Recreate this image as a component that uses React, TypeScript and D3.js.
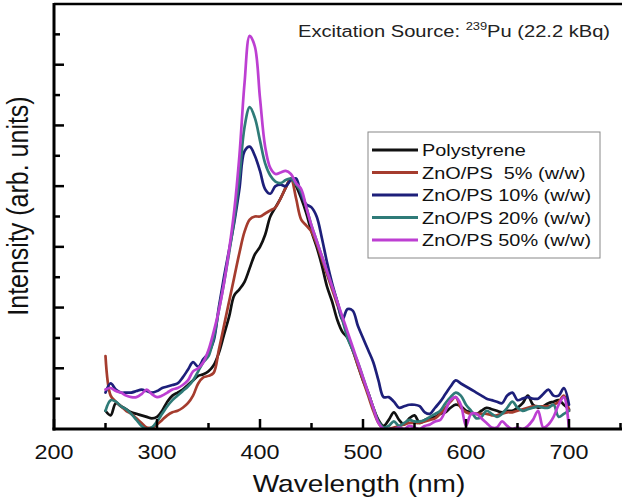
import React from "react";
import * as d3 from "d3";

const wavelengths: number[] = d3.range(250, 705, 5);

const polystyrene = [
  0.6, 0.45, 0.85, 0.75, 0.65, 0.55, 0.5, 0.45, 0.4, 0.35,
  0.4, 0.6, 0.9, 1.1, 1.2, 1.3, 1.45, 1.6, 1.75, 1.8,
  1.9, 2.1, 2.5, 3.1, 3.7, 4.4, 4.6, 4.85, 5.3, 5.75,
  6.0, 6.4, 7.0, 7.3, 7.6, 7.95, 8.25, 8.0, 7.6, 7.1,
  6.5, 6.0, 5.4, 4.7, 4.2, 3.6, 3.2, 3.0, 2.6, 2.1,
  1.6, 1.2, 0.7, 0.3, 0.1, 0.3, 0.55, 0.3, 0.15, 0.35,
  0.45, 0.2, 0.3, 0.35, 0.4, 0.5, 0.55, 0.7, 0.8, 0.75,
  0.6, 0.55, 0.5, 0.6, 0.7, 0.65, 0.6, 0.55, 0.6, 0.6,
  0.7, 0.85, 1.1, 0.8, 0.7, 0.75, 0.85, 0.9, 0.95, 0.8,
  0.65,
];

const zno5 = [
  2.4, 1.1, 0.9, 0.75, 0.6, 0.5, 0.35, 0.2, 0.05, 0.05,
  0.15, 0.3, 0.45, 0.55, 0.6, 0.7, 0.85, 1.1, 1.5, 1.7,
  1.75, 1.85, 2.6, 3.4, 4.2, 5.0, 5.8, 6.5, 6.9, 7.0,
  7.0, 7.1, 7.2, 7.3, 7.6, 7.95, 8.25, 7.6, 6.9, 6.7,
  6.5, 6.1, 5.6, 5.1, 4.6, 4.1, 3.6, 3.1, 2.6, 2.1,
  1.6, 1.1, 0.6, 0.2, 0.0, 0.0, 0.05, 0.1, 0.15, 0.2,
  0.2, 0.2, 0.25, 0.3, 0.35, 0.5, 0.7, 0.9, 1.05, 0.7,
  0.55, 0.5, 0.5, 0.5, 0.5, 0.45, 0.45, 0.5, 0.55, 0.55,
  0.6, 0.65, 0.7, 0.75, 0.75, 0.75, 0.75, 0.8, 0.9, 1.1,
  0.6,
];

const zno10 = [
  1.2, 1.5, 1.3, 1.2, 1.2, 1.2, 1.25, 1.3, 1.25, 1.2,
  1.25, 1.35, 1.4, 1.45, 1.5, 1.7, 1.95, 2.2, 2.05, 2.3,
  2.5, 2.9, 4.0, 5.0, 5.9, 6.8, 7.9, 9.15, 9.3, 9.0,
  8.5, 7.9, 7.75, 8.0, 8.05, 8.0, 8.2, 8.25, 7.7, 7.4,
  7.3, 7.0, 6.3, 5.5, 4.8, 4.2, 3.6, 3.95, 3.9, 3.4,
  3.0, 2.6, 2.2, 1.6, 1.05, 1.05, 0.9, 0.7, 0.75, 0.8,
  0.8, 0.75, 0.55, 0.5, 0.7, 0.9, 1.15, 1.4, 1.6, 1.5,
  1.4, 1.3, 1.2, 1.1, 1.0, 0.95, 0.9, 0.85, 1.1, 1.2,
  0.95, 1.0, 1.05, 1.0, 1.0, 1.15, 1.3, 1.1, 1.1, 1.35,
  0.8,
];

const zno20 = [
  0.6, 0.95, 0.9, 0.75, 0.65, 0.5, 0.3, 0.1, 0.0, 0.05,
  0.25, 0.5, 0.75, 0.95, 1.1, 1.25, 1.4, 1.6, 1.9, 2.2,
  2.4, 3.0, 3.9, 4.8, 5.8, 6.9, 8.3, 9.95, 10.6, 10.25,
  9.5, 8.75, 8.35, 8.15, 8.1, 8.2, 8.25, 8.05, 7.8, 7.3,
  6.7, 6.2, 5.7, 5.2, 4.7, 4.2, 3.6, 3.0, 2.6, 2.2,
  1.7, 1.2, 0.7, 0.25, 0.05, 0.1, 0.25, 0.1, 0.2, 0.3,
  0.25, 0.25, 0.3, 0.4, 0.5, 0.6, 0.85, 1.05, 1.2, 1.1,
  0.8, 0.6, 0.35, 0.4, 0.6, 0.5, 0.4, 0.5, 0.7, 0.9,
  0.7, 0.6, 0.65, 0.7, 0.75, 0.7, 0.7, 0.8, 0.4, 0.5,
  0.6,
];

const zno50 = [
  1.3, 1.35, 1.25, 1.2, 1.1, 1.05, 1.05, 1.15, 1.3, 1.15,
  1.05, 1.1, 1.2, 1.3, 1.35, 1.45, 1.6, 1.9, 2.0, 2.2,
  2.6, 3.2, 3.9, 4.8, 5.9, 7.2, 9.0, 11.4, 12.95, 12.6,
  10.9, 9.3, 8.6, 8.4, 8.45, 8.5, 8.4, 8.1, 7.9, 7.3,
  6.7, 6.2, 5.7, 5.2, 4.7, 4.2, 3.7, 3.2, 2.7, 2.2,
  1.7, 1.2, 0.7, 0.2, 0.0, 0.0, 0.0, 0.05, 0.0, 0.1,
  0.05, 0.0, 0.1, 0.15, 0.25, 0.3, 0.6, 0.95, 1.05, 0.8,
  0.1, 0.5, 0.5, 0.35, 0.2, 0.05, 0.05, 0.25, 0.1, 0.0,
  0.05, 0.0, 0.1, 0.3, 0.6, 0.05, 0.15, 0.4, 0.8, 1.05,
  0.0,
];

const seriesNames = [
  "Polystyrene",
  "ZnO/PS  5% (w/w)",
  "ZnO/PS 10% (w/w)",
  "ZnO/PS 20% (w/w)",
  "ZnO/PS 50% (w/w)",
];
const seriesValues = [polystyrene, zno5, zno10, zno20, zno50];
const seriesColors = ["#111111", "#a53c2e", "#1d1f7a", "#2f7b78", "#bd3fd2"];

const xTicksMajor = [200, 300, 400, 500, 600, 700];
const xTicksMinor = [250, 350, 450, 550, 650, 750];
const yTicks = d3.range(1, 14, 1);

const W = 622;
const H = 500;
const left = 54;
const bottom = 429;
const top = 4;
const SX = 1.17;
const FONT = "'Liberation Sans', Arial, sans-serif";

export default function App() {
  const x = d3.scaleLinear().domain([200, 760]).range([left, left + 560 * 1.03]);
  const y = d3.scaleLinear().domain([0, 14]).range([bottom, top]);

  const line = d3
    .line<number>()
    .x((_, i) => x(wavelengths[i]))
    .y((d) => y(d))
    .curve(d3.curveCatmullRom.alpha(0.5));

  const legendRowY = [150, 172.5, 195, 217.5, 240];

  return (
    <svg
      width={W}
      height={H}
      style={{ position: "fixed", left: 0, top: 0, background: "#fff" }}
      fontFamily={FONT}
    >
      <defs>
        <clipPath id="plotclip">
          <rect x={left} y={top} width={W - left} height={bottom - top} />
        </clipPath>
      </defs>
      <rect x={0} y={0} width={W} height={H} fill="#fff" />

      {/* series */}
      <g clipPath="url(#plotclip)">
        {seriesValues.map((vals, k) => (
          <path
            key={k}
            d={line(vals) || ""}
            fill="none"
            stroke={seriesColors[k]}
            strokeWidth={2.7}
            strokeLinejoin="round"
            strokeLinecap="round"
          />
        ))}
      </g>

      {/* frame */}
      <line x1={left} x2={W + 5} y1={top} y2={top} stroke="#000" strokeWidth={2.5} />
      <line x1={left} x2={left} y1={top - 1} y2={bottom + 1.5} stroke="#000" strokeWidth={3} />
      <line x1={left - 1.5} x2={W + 5} y1={bottom} y2={bottom} stroke="#000" strokeWidth={3} />

      {/* y ticks */}
      {yTicks.map((t) => (
        <line
          key={t}
          x1={left}
          x2={left + (t % 2 === 0 ? 10 : 6)}
          y1={y(t)}
          y2={y(t)}
          stroke="#000"
          strokeWidth={2.5}
        />
      ))}

      {/* x ticks */}
      {xTicksMajor.map((t) => (
        <line key={"M" + t} x1={x(t)} x2={x(t)} y1={bottom} y2={bottom - 10} stroke="#000" strokeWidth={2.5} />
      ))}
      {xTicksMinor.map((t) => (
        <line key={"m" + t} x1={x(t)} x2={x(t)} y1={bottom} y2={bottom - 6} stroke="#000" strokeWidth={2.5} />
      ))}
      {xTicksMajor.map((t) => (
        <text
          key={"l" + t}
          transform={`translate(${x(t)},${459}) scale(${SX},1)`}
          textAnchor="middle"
          fontSize={20}
          fill="#111"
        >
          {t}
        </text>
      ))}

      {/* axis titles */}
      <text
        transform={`translate(${359},${492}) scale(${SX},1)`}
        textAnchor="middle"
        fontSize={24}
        fill="#111"
      >
        Wavelength (nm)
      </text>
      <text
        transform={`translate(${28},${206}) rotate(-90) scale(1,${SX})`}
        textAnchor="middle"
        fontSize={25}
        fill="#111"
      >
        Intensity (arb. units)
      </text>

      {/* annotation */}
      <text
        transform={`translate(${298},${37}) scale(${SX},1)`}
        fontSize={17.2}
        fill="#222"
      >
        <tspan>Excitation Source: </tspan>
        <tspan dy={-7} fontSize={11}>239</tspan>
        <tspan dy={7}>Pu (22.2 kBq)</tspan>
      </text>

      {/* legend */}
      <rect x={368} y={132} width={232} height={126} fill="#fff" stroke="#888" strokeWidth={1} />
      {seriesNames.map((name, k) => (
        <g key={name}>
          <line
            x1={372}
            x2={418}
            y1={legendRowY[k]}
            y2={legendRowY[k]}
            stroke={seriesColors[k]}
            strokeWidth={3}
          />
          <text
            transform={`translate(${422},${legendRowY[k] + 6}) scale(${SX},1)`}
            fontSize={17}
            fill="#111"
            style={{ whiteSpace: "pre" }}
          >
            {name}
          </text>
        </g>
      ))}
    </svg>
  );
}
